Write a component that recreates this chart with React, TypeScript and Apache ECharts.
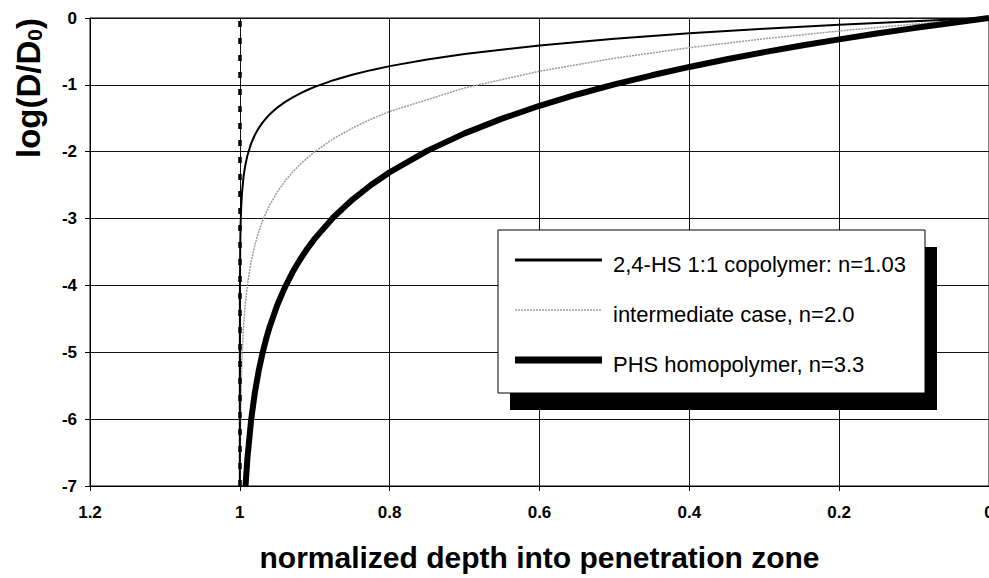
import React, { useEffect, useRef } from "react";
import * as echarts from "echarts";

// ---- data ----
const seriesNames = [
  "2,4-HS 1:1 copolymer: n=1.03",
  "intermediate case, n=2.0",
  "PHS homopolymer, n=3.3",
];

const depthCopolymer = [0, 0.05, 0.1, 0.2, 0.3, 0.4, 0.5, 0.6, 0.7, 0.75, 0.8, 0.825, 0.85, 0.875, 0.9, 0.91, 0.92, 0.93, 0.94, 0.95, 0.96, 0.965, 0.97, 0.975, 0.98, 0.985, 0.99, 0.993, 0.995, 0.997, 0.998, 0.999, 0.9995, 0.9999, 0.99999, 0.999999, 0.9999998];
const logCopolymer = [0, -0.023, -0.047, -0.1, -0.16, -0.228, -0.31, -0.41, -0.539, -0.62, -0.72, -0.78, -0.849, -0.93, -1.03, -1.077, -1.13, -1.19, -1.258, -1.34, -1.44, -1.5, -1.569, -1.65, -1.75, -1.879, -2.06, -2.22, -2.37, -2.599, -2.78, -3.09, -3.4, -4.12, -5.15, -6.18, -7];

const depthIntermediate = [0, 0.05, 0.1, 0.2, 0.3, 0.4, 0.5, 0.6, 0.7, 0.8, 0.825, 0.85, 0.875, 0.9, 0.91, 0.92, 0.93, 0.94, 0.95, 0.96, 0.965, 0.97, 0.975, 0.98, 0.985, 0.99, 0.993, 0.995, 0.997, 0.998, 0.999, 0.9995, 0.99968];
const logIntermediate = [0, -0.045, -0.092, -0.194, -0.31, -0.444, -0.602, -0.796, -1.046, -1.398, -1.514, -1.648, -1.806, -2.0, -2.092, -2.194, -2.31, -2.444, -2.602, -2.796, -2.912, -3.046, -3.204, -3.398, -3.648, -4.0, -4.31, -4.602, -5.046, -5.398, -6.0, -6.602, -7];

const depthPHS = [0, 0.05, 0.1, 0.15, 0.2, 0.25, 0.3, 0.35, 0.4, 0.45, 0.5, 0.55, 0.6, 0.65, 0.7, 0.75, 0.8, 0.825, 0.85, 0.875, 0.9, 0.91, 0.92, 0.93, 0.94, 0.95, 0.96, 0.965, 0.97, 0.975, 0.98, 0.985, 0.99, 0.9924];
const logPHS = [0, -0.074, -0.151, -0.233, -0.32, -0.412, -0.511, -0.617, -0.732, -0.857, -0.993, -1.144, -1.313, -1.505, -1.726, -1.987, -2.307, -2.498, -2.719, -2.98, -3.3, -3.451, -3.62, -3.811, -4.032, -4.293, -4.613, -4.804, -5.026, -5.287, -5.607, -6.019, -6.6, -7];

const boundaryDepth = 1;

const xTicks = { min: 0, max: 1.2, interval: 0.2 };
const yTicks = { min: -7, max: 0, interval: 1 };

const FONT = '"Liberation Sans", Arial, Helvetica, sans-serif';

function zip(xs: number[], ys: number[]) {
  return xs.map((x, i) => [x, ys[i]]);
}

export default function App() {
  const ref = useRef<HTMLDivElement>(null);

  useEffect(() => {
    if (!ref.current) return;
    const chart = echarts.init(ref.current, undefined, { renderer: "svg" });

    const lineStyles = [
      { color: "#000", width: 2, type: "solid" as any },
      { color: "#9a9a9a", width: 1.5, type: [2, 1] as any },
      { color: "#000", width: 6, type: "solid" as any },
    ];
    const legendLineStyles = [
      { stroke: "#000", lineWidth: 3 },
      { stroke: "#a0a0a0", lineWidth: 1.5, lineDash: [2, 1] },
      { stroke: "#000", lineWidth: 7 },
    ];

    const box = { x: 498, y: 230, w: 427, h: 163 };
    const rowsY = [260, 310, 360];

    const legendGraphics: any[] = [
      {
        type: "rect",
        z: 100,
        shape: { x: box.x + 12, y: box.y + 17, width: box.w, height: box.h },
        style: { fill: "#000" },
      },
      {
        type: "rect",
        z: 101,
        shape: { x: box.x, y: box.y, width: box.w, height: box.h },
        style: { fill: "#fff", stroke: "#000", lineWidth: 1 },
      },
    ];
    seriesNames.forEach((name, i) => {
      legendGraphics.push({
        type: "line",
        z: 102,
        shape: { x1: 515, y1: rowsY[i], x2: 602, y2: rowsY[i] },
        style: legendLineStyles[i],
      });
      legendGraphics.push({
        type: "text",
        z: 102,
        x: 613,
        y: rowsY[i] + 4,
        style: {
          text: name,
          font: `22px ${FONT}`,
          fill: "#000",
          verticalAlign: "middle",
        },
      });
    });

    const option: any = {
      animation: false,
      backgroundColor: "#fff",
      grid: {
        left: 90,
        right: 0,
        top: 18,
        bottom: 92,
        show: true,
        borderColor: "#000",
        borderWidth: 1,
        containLabel: false,
        outerBoundsMode: "none",
      },
      xAxis: {
        type: "value",
        inverse: true,
        min: xTicks.min,
        max: xTicks.max,
        interval: xTicks.interval,
        name: "normalized depth into penetration zone",
        nameLocation: "middle",
        nameGap: 56,
        nameTextStyle: {
          fontFamily: FONT,
          fontWeight: "bold",
          fontSize: 30,
          color: "#000",
        },
        axisLine: { show: true, onZero: false, lineStyle: { color: "#000", width: 1 } },
        axisTick: { show: true, length: 5, lineStyle: { color: "#000" } },
        splitLine: { show: true, lineStyle: { color: "#111", width: 1 } },
        axisLabel: {
          fontFamily: FONT,
          fontWeight: "bold",
          fontSize: 17,
          color: "#000",
          margin: 18,
        },
      },
      yAxis: {
        type: "value",
        min: yTicks.min,
        max: yTicks.max,
        interval: yTicks.interval,
        axisLine: { show: true, onZero: false, lineStyle: { color: "#000", width: 1 } },
        axisTick: { show: true, length: 5, lineStyle: { color: "#000" } },
        splitLine: { show: true, lineStyle: { color: "#111", width: 1 } },
        axisLabel: {
          fontFamily: FONT,
          fontWeight: "bold",
          fontSize: 17,
          color: "#000",
          margin: 13,
        },
      },
      legend: { show: false },
      graphic: [
        {
          type: "text",
          z: 100,
          x: 28,
          y: 88,
          rotation: Math.PI / 2,
          style: {
            text: "log(D/D{sub|0})",
            font: `bold 33px ${FONT}`,
            fill: "#000",
            align: "center",
            verticalAlign: "middle",
            rich: {
              sub: {
                fontFamily: FONT,
                fontWeight: "bold",
                fontSize: 21,
                verticalAlign: "bottom",
                lineHeight: 26,
                fill: "#000",
              },
            },
          },
        },
        ...legendGraphics,
      ],
      series: [
        {
          name: seriesNames[0],
          type: "line",
          showSymbol: false,
          symbol: "none",
          data: zip(depthCopolymer, logCopolymer),
          lineStyle: lineStyles[0],
          z: 3,
          markLine: {
            silent: true,
            symbol: "none",
            label: { show: false },
            lineStyle: { color: "#000", width: 3.5, type: [6, 11] },
            data: [{ xAxis: boundaryDepth }],
          },
        },
        {
          name: seriesNames[1],
          type: "line",
          showSymbol: false,
          symbol: "none",
          data: zip(depthIntermediate, logIntermediate),
          lineStyle: lineStyles[1],
          z: 2,
        },
        {
          name: seriesNames[2],
          type: "line",
          showSymbol: false,
          symbol: "none",
          data: zip(depthPHS, logPHS),
          lineStyle: lineStyles[2],
          z: 4,
        },
      ],
    };

    chart.setOption(option);
    return () => chart.dispose();
  }, []);

  return (
    <div
      ref={ref}
      style={{ position: "absolute", left: 0, top: 0, width: 989, height: 578 }}
    />
  );
}
